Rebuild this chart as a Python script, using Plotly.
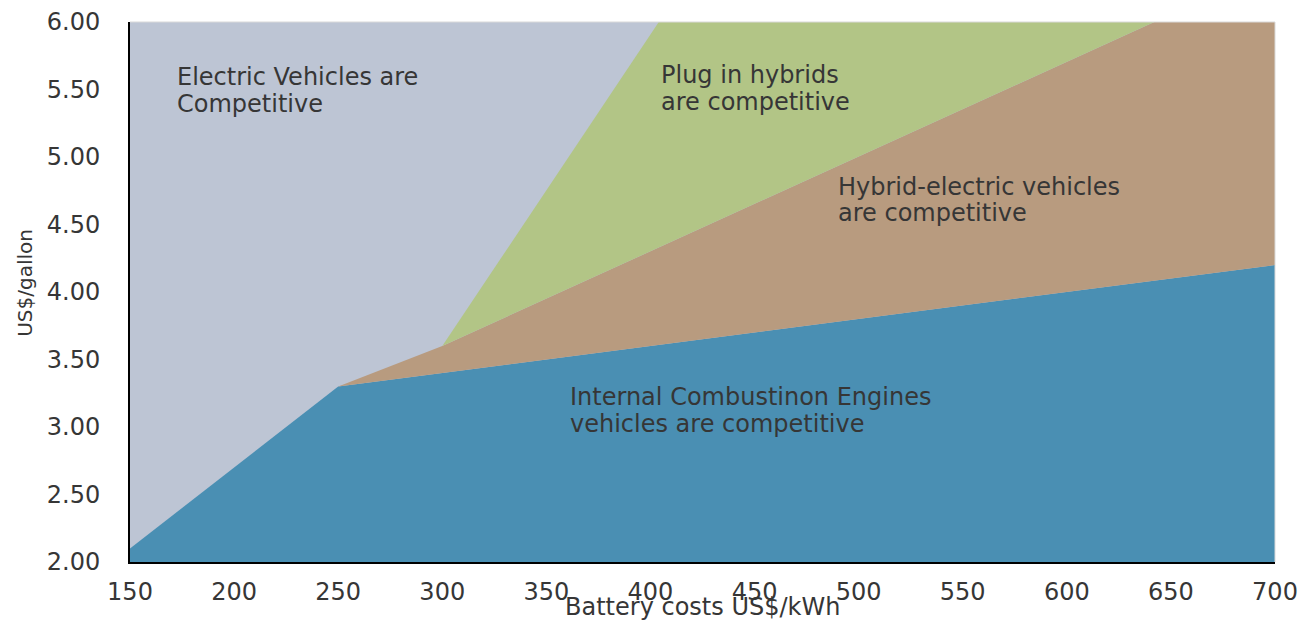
import plotly.graph_objects as go

# Boundary lines between competitive regions (battery cost US$/kWh vs fuel price US$/gallon)
ice_cost = [150, 250, 700]
ice_price = [2.1, 3.3, 4.2]

hev_cost = [250, 300, 642]
hev_price = [3.3, 3.6, 6.0]

phev_cost = [300, 404]
phev_price = [3.6, 6.0]

x_ticks = [150, 200, 250, 300, 350, 400, 450, 500, 550, 600, 650, 700]
y_ticks = [2.0, 2.5, 3.0, 3.5, 4.0, 4.5, 5.0, 5.5, 6.0]

x_min, x_max = 150, 700
y_min, y_max = 2.0, 6.0

EV_COLOR = "#BDC5D4"
PHEV_COLOR = "#B2C586"
HEV_COLOR = "#B89B7F"
ICE_COLOR = "#4A8FB3"
TEXT = "#363636"
FONT = "DejaVu Sans"

fig = go.Figure()

# Internal combustion region: under the ICE boundary
fig.add_trace(go.Scatter(
    x=ice_cost + [x_max, x_min],
    y=ice_price + [y_min, y_min],
    fill="toself", fillcolor=ICE_COLOR, mode="none", hoverinfo="skip",
))

# Hybrid region: between ICE boundary (from the kink) and HEV boundary
ice_tail_x = [c for c in ice_cost if c >= hev_cost[0]]
ice_tail_y = [p for c, p in zip(ice_cost, ice_price) if c >= hev_cost[0]]
fig.add_trace(go.Scatter(
    x=ice_tail_x + [x_max] + hev_cost[::-1],
    y=ice_tail_y + [y_max] + hev_price[::-1],
    fill="toself", fillcolor=HEV_COLOR, mode="none", hoverinfo="skip",
))

# Plug-in hybrid region: between HEV boundary and PHEV boundary
hev_tail_x = [c for c in hev_cost if c >= phev_cost[0]]
hev_tail_y = [p for c, p in zip(hev_cost, hev_price) if c >= phev_cost[0]]
fig.add_trace(go.Scatter(
    x=hev_tail_x + phev_cost[::-1],
    y=hev_tail_y + phev_price[::-1],
    fill="toself", fillcolor=PHEV_COLOR, mode="none", hoverinfo="skip",
))

# Region labels, one annotation per line for tight line spacing
labels = [
    (172.1, 5.593, "Electric Vehicles are"),
    (172.1, 5.393, "Competitive"),
    (404.6, 5.607, "Plug in hybrids"),
    (404.6, 5.407, "are competitive"),
    (489.6, 4.778, "Hybrid-electric vehicles"),
    (489.6, 4.585, "are competitive"),
    (360.9, 3.222, "Internal Combustinon Engines"),
    (360.9, 3.022, "vehicles are competitive"),
]
for x, y, t in labels:
    fig.add_annotation(x=x, y=y, text=t, showarrow=False, xanchor="left",
                       yanchor="middle", align="left", borderpad=0,
                       font=dict(family=FONT, size=24, color=TEXT))

# Axis titles
fig.add_annotation(x=0.5, y=-0.083, xref="paper", yref="paper", text="Battery costs US$/kWh",
                   showarrow=False, xanchor="center", yanchor="middle",
                   font=dict(family=FONT, size=24, color=TEXT))
fig.add_annotation(x=-0.0917, y=0.517, xref="paper", yref="paper", text="US$/gallon",
                   showarrow=False, textangle=-90, xanchor="center", yanchor="middle",
                   font=dict(family=FONT, size=20, color=TEXT))

# Light frame on top and right edges
fig.add_shape(type="line", xref="paper", yref="paper", x0=0, x1=1, y0=1, y1=1,
              line=dict(color="#D9D9D9", width=1))
fig.add_shape(type="line", xref="paper", yref="paper", x0=1, x1=1, y0=0, y1=1,
              line=dict(color="#D9D9D9", width=1))

fig.update_layout(
    width=1309, height=623,
    margin=dict(l=130, r=34, t=22, b=61),
    plot_bgcolor=EV_COLOR, paper_bgcolor="white",
    showlegend=False,
    font=dict(family=FONT, color=TEXT),
)
fig.update_xaxes(
    range=[x_min, x_max], tickvals=x_ticks, ticktext=[str(v) for v in x_ticks],
    showgrid=False, zeroline=False, showline=True, linecolor="black", linewidth=2,
    ticks="outside", ticklen=7, tickcolor="rgba(0,0,0,0)", automargin=False,
    tickfont=dict(family=FONT, size=24, color=TEXT),
)
fig.update_yaxes(
    range=[y_min, y_max], tickvals=y_ticks, ticktext=[f"{v:.2f}" for v in y_ticks],
    showgrid=False, zeroline=False, showline=True, linecolor="black", linewidth=2,
    ticks="outside", ticklen=23, tickcolor="rgba(0,0,0,0)", automargin=False,
    tickfont=dict(family=FONT, size=24, color=TEXT),
)

fig.write_html("out.html")
